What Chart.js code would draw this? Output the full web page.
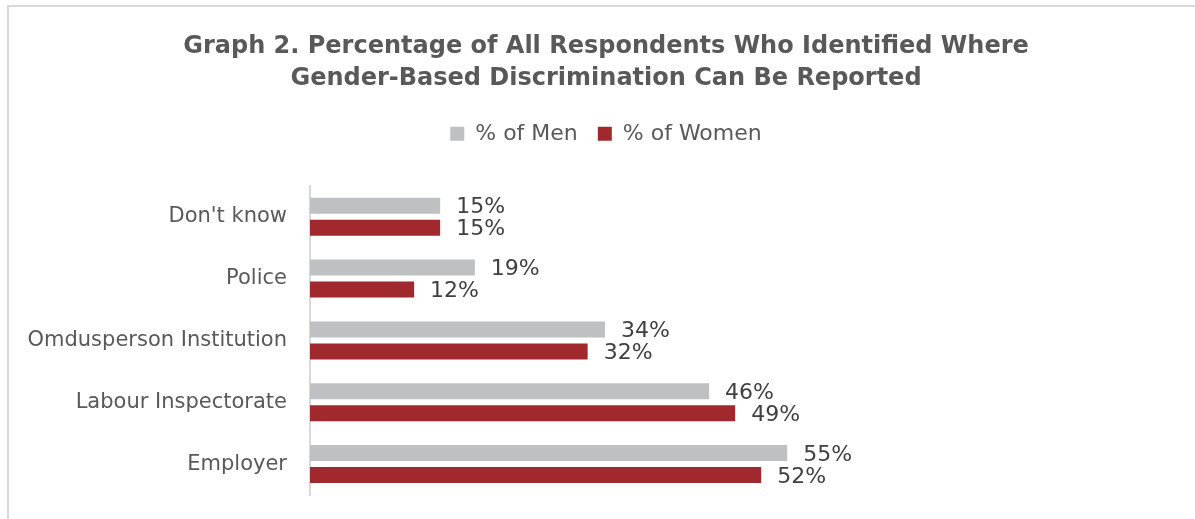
<!DOCTYPE html>
<html>
<head>
<meta charset="utf-8">
<script src="https://cdn.jsdelivr.net/npm/chart.js@4"></script>
<style>
  html, body { margin: 0; padding: 0; background: #fff; }
  #wrap { width: 1195px; height: 519px; }
</style>
</head>
<body>
<div id="wrap"><canvas id="Chart" width="1195" height="519"></canvas></div>
<script>
const categories = ["Don't know", "Police", "Omdusperson Institution", "Labour Inspectorate", "Employer"];
const menValues = [15, 19, 34, 46, 55];
const womenValues = [15, 12, 32, 49, 52];
const seriesNames = ["% of Men", "% of Women"];
const titleLines = ["Graph 2. Percentage of All Respondents Who Identified Where", "Gender-Based Discrimination Can Be Reported"];

const FONT = "'DejaVu Sans', Verdana, sans-serif";

// light grey frame round the chart
const framePlugin = {
  id: "frame",
  beforeDraw(chart) {
    const c = chart.ctx;
    c.save();
    c.strokeStyle = "#d9d9d9";
    c.lineWidth = 2;
    c.beginPath();
    c.moveTo(8, chart.height);
    c.lineTo(8, 6);
    c.lineTo(chart.width, 6);
    c.stroke();
    c.restore();
  }
};

// value labels at the end of each bar
const valueLabels = {
  id: "valueLabels",
  afterDatasetsDraw(chart) {
    const c = chart.ctx;
    c.save();
    c.font = "22px " + FONT;
    c.fillStyle = "#404040";
    c.textAlign = "left";
    c.textBaseline = "middle";
    chart.data.datasets.forEach((ds, i) => {
      chart.getDatasetMeta(i).data.forEach((bar, j) => {
        c.fillText(ds.data[j] + "%", bar.x + 16, bar.y + 2);
      });
    });
    c.restore();
  }
};

const ctx = document.getElementById("Chart").getContext("2d");
const myChart = new Chart(ctx, {
  type: "bar",
  data: {
    labels: categories,
    datasets: [
      { label: seriesNames[0], data: menValues, backgroundColor: "#bfc0c2" },
      { label: seriesNames[1], data: womenValues, backgroundColor: "#a1292d" }
    ]
  },
  options: {
    indexAxis: "y",
    responsive: false,
    animation: false,
    events: [],
    categoryPercentage: 0.71,
    barPercentage: 0.73,
    layout: { padding: { left: 17, right: 0, top: 31, bottom: 24 } },
    plugins: {
      title: {
        display: true,
        text: titleLines,
        color: "#595959",
        font: { family: FONT, size: 24, weight: "bold", lineHeight: 1.33 },
        padding: { top: 0, bottom: 8 }
      },
      legend: {
        display: true,
        position: "top",
        labels: {
          color: "#595959",
          font: { family: FONT, size: 22 },
          boxWidth: 14,
          boxHeight: 14,
          padding: 20
        }
      },
      tooltip: { enabled: false }
    },
    scales: {
      x: {
        position: "top",
        min: 0,
        max: 102,
        grid: { display: false },
        border: { display: false },
        ticks: { display: false },
        afterFit(axis) { axis.height = 31; }
      },
      y: {
        grid: { display: false },
        border: { display: true, color: "#d9d9d9", width: 2 },
        ticks: {
          color: "#595959",
          font: { family: FONT, size: 21 },
          padding: 15
        },
        afterFit(axis) {
          axis.width = 293;
          axis.paddingTop = 0;
          axis.paddingBottom = 0;
        }
      }
    }
  },
  plugins: [framePlugin, valueLabels]
});
</script>
</body>
</html>
